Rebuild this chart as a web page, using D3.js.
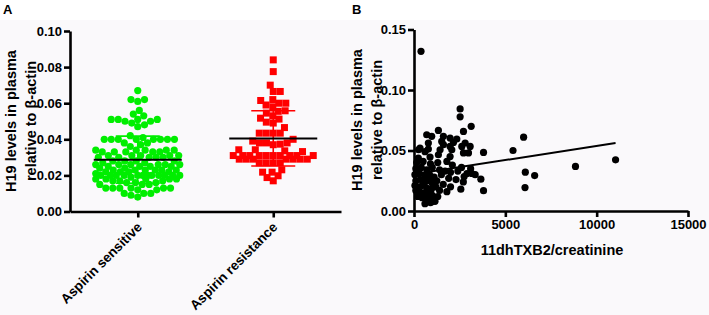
<!DOCTYPE html>
<html><head><meta charset="utf-8">
<script src="https://cdn.jsdelivr.net/npm/d3@7"></script>
<style>
html,body{margin:0;padding:0;background:#fff;}
svg{display:block;font-family:"Liberation Sans",Arial,Helvetica,sans-serif;}
</style></head>
<body>
<svg id="chart" width="709" height="315"></svg>
<script>
// ---------- Data ----------
const categories = ["Aspirin sensitive", "Aspirin resistance"];
const sensitiveValues = [0.067,0.062,0.062,0.061,0.056,0.054,0.053,0.051,0.051,0.051,0.051,0.050,0.050,0.049,0.048,0.047,
0.042,0.041,
0.040,0.040,0.040,0.040,0.040,0.040,0.040,0.040,0.038,0.038,
0.037,0.036,
0.034,0.034,0.034,0.033,0.033,0.033,0.033,0.034,0.034,0.033,
0.031,0.031,0.030,0.030,0.031,0.030,0.031,0.030,0.031,0.030,
0.028,0.028,0.027,0.028,0.027,0.028,
0.026,0.026,0.025,0.026,0.025,0.026,0.025,0.026,0.024,0.025,0.026,0.024,
0.023,0.023,0.022,0.023,0.022,0.023,0.022,0.023,0.022,0.023,
0.020,0.020,0.020,0.020,0.020,0.020,0.020,0.020,0.020,0.020,0.020,0.020,0.019,0.021,
0.018,0.018,0.017,0.018,0.017,0.018,0.017,0.018,
0.016,0.015,0.016,0.015,0.016,0.015,
0.013,0.013,0.013,0.013,0.013,0.013,0.012,0.012,
0.010,0.010,0.010,0.009,
0.008];
const resistanceValues = [0.084,0.0775,0.070,0.0665,0.0665,0.0615,0.060,0.060,0.062,0.058,0.059,0.0555,0.0545,0.0558,0.053,0.0517,0.0512,0.049,0.0465,0.0495,
0.0434,0.0434,0.0434,0.0434,0.040,0.038,0.038,0.037,0.0342,0.0332,0.0336,0.0342,0.0373,0.038,0.039,
0.031,0.031,0.031,0.031,0.031,0.031,0.031,0.031,0.031,0.031,
0.029,0.029,0.029,0.029,0.029,0.029,0.029,
0.027,0.027,0.027,0.027,
0.0218,0.0198,0.017,0.0188,0.0218,0.0231];
const yTicksA = [0, 0.02, 0.04, 0.06, 0.08, 0.10];

const txbValues = [384,
2525,2525,3130,2708,1335,696,970,1610,1976,2343,6000,
1518,2160,786,2800,329,786,1610,1976,2617,3074,1427,2069,2708,2983,3806,5420,250,604,1335,1976,878,237,
8840,11035,6094,6605,6077,3806,3660,3350,3168,2563,2745,
150,500,900,1300,1800,2100,2600,3100,
100,400,700,1000,1400,1700,2000,2400,2900,
50,300,600,850,1100,1500,1900,2300,2700,
100,350,600,800,1000,1250,1600,2000,
50,200,450,700,950,1200,1400,1800,
100,300,550,750,1000,1300,
200,450,650,800,1050,900,600,1150,970];
const h19Values = [0.132,
0.0844,0.0778,0.070,0.0658,0.0666,0.063,0.0617,0.0617,0.0603,0.0595,0.061,
0.0575,0.0567,0.0562,0.0562,0.052,0.0512,0.0548,0.0534,0.0534,0.0534,0.0506,0.0506,0.048,0.048,0.0484,0.050,0.0506,0.049,0.0465,0.045,0.0446,0.0437,
0.0368,0.0423,0.0321,0.0293,0.0194,0.0168,0.0263,0.030,0.031,0.018,0.0285,
0.040,0.041,0.039,0.040,0.041,0.038,0.036,0.035,
0.035,0.036,0.034,0.036,0.034,0.033,0.032,0.033,0.031,
0.030,0.031,0.029,0.030,0.028,0.030,0.027,0.026,0.024,
0.025,0.026,0.024,0.025,0.023,0.025,0.022,0.020,
0.021,0.020,0.021,0.019,0.018,0.020,0.017,0.016,
0.017,0.016,0.015,0.014,0.013,0.012,
0.012,0.011,0.010,0.009,0.009,0.007,0.006,0.008,0.0077];
const xTicksB = [0, 5000, 10000, 15000];
const yTicksB = [0, 0.05, 0.10, 0.15];
const regressionIntercept = 0.0304;
const regressionSlope = 2.34e-6;

// ---------- Setup ----------
const svg = d3.select("#chart");
svg.append("rect").attr("x",0).attr("y",20).attr("width",709).attr("height",295).attr("fill","#faf9fb");

const FF = "'Liberation Sans', Arial, sans-serif";
const FONT = "bold 13px " + FF;

function styleAxis(g){
  g.select(".domain").attr("stroke","#000").attr("stroke-width",2.6);
  g.selectAll(".tick line").attr("stroke","#000").attr("stroke-width",2.6);
  g.selectAll(".tick text").attr("fill","#000").style("font",FONT);
}
function yTitle(x1, x2, cy){
  [["H19 levels in plasma", x1], ["relative to β-actin", x2]].forEach(([t, x]) => {
    svg.append("text").attr("transform", `translate(${x},${cy}) rotate(-90)`)
      .attr("text-anchor","middle").style("font","bold 14.5px " + FF).text(t);
  });
}

// ---------- Panel A ----------
const xA = d3.scalePoint().domain(categories).range([70, 341]).padding(0.5);
const yA = d3.scaleLinear().domain([0, 0.10]).range([211.5, 31]);

svg.append("text").attr("x",3).attr("y",14).text("A").style("font","bold 13px " + FF);

const gyA = svg.append("g").attr("transform","translate(70,0)")
  .call(d3.axisLeft(yA).tickValues(yTicksA).tickFormat(d3.format(".2f")).tickSize(6).tickSizeOuter(0).tickPadding(2));
styleAxis(gyA);
const gxA = svg.append("g").attr("transform","translate(0,211.5)")
  .call(d3.axisBottom(xA).tickSize(6).tickSizeOuter(0).tickFormat(""));
styleAxis(gxA);

svg.selectAll(".catlabel").data(categories).join("text")
  .attr("class","catlabel")
  .attr("transform", d => `translate(${xA(d)+5},${228}) rotate(-45)`)
  .attr("text-anchor","end")
  .style("font","bold 13.5px " + FF)
  .text(d => d);

yTitle(15.5, 35.5, 121);

// beeswarm layout in pixel space, confined to a half-width W
function swarm(values, cx, yScale, diam, W){
  const sorted = values.map(v => ({v, y: yScale(v)})).sort((a,b) => b.y - a.y);
  const placed = [];
  sorted.forEach((p, i) => {
    const near = placed.filter(q => Math.abs(q.y - p.y) < diam);
    const forb = near.map(q => {
      const dy = Math.abs(q.y - p.y);
      const dx = Math.sqrt(diam*diam - dy*dy);
      return [q.off - dx, q.off + dx];
    });
    const cands = [0];
    forb.forEach(f => cands.push(f[0], f[1]));
    const ok = cands.filter(c => Math.abs(c) <= W && forb.every(f => c <= f[0] + 1e-6 || c >= f[1] - 1e-6));
    let chosen;
    if (ok.length) {
      ok.sort((a,b) => Math.abs(a) - Math.abs(b) || (i % 2 ? a - b : b - a));
      chosen = ok[0];
    } else {
      let best = -1;
      for (let c = -W; c <= W + 1e-9; c += 0.5) {
        let s = Infinity;
        near.forEach(q => { const d = Math.hypot(q.off - c, q.y - p.y); if (d < s) s = d; });
        if (s > best + 1e-9 || (Math.abs(s - best) < 1e-9 && Math.abs(c) < Math.abs(chosen))) { best = s; chosen = c; }
      }
    }
    p.off = chosen;
    placed.push(p);
  });
  return placed.map(p => ({v: p.v, x: cx + p.off, y: p.y}));
}

const groups = [
  {name: categories[0], values: sensitiveValues, color: "#00ee00", shape: "circle", halfWidth: 42},
  {name: categories[1], values: resistanceValues, color: "#ff0000", shape: "square", halfWidth: 40}
];

groups.forEach(gr => {
  const cx = xA(gr.name);
  const pts = swarm(gr.values, cx, yA, 7, gr.halfWidth);
  const g = svg.append("g");
  if (gr.shape === "circle") {
    g.selectAll("circle").data(pts).join("circle")
      .attr("cx", d => d.x).attr("cy", d => d.y).attr("r", 3.6).attr("fill", gr.color);
  } else {
    g.selectAll("rect").data(pts).join("rect")
      .attr("x", d => d.x - 3.5).attr("y", d => d.y - 3.5).attr("width", 7).attr("height", 7).attr("fill", gr.color);
  }
  const m = d3.mean(gr.values), sd = d3.deviation(gr.values);
  g.append("line").attr("x1",cx).attr("x2",cx).attr("y1",yA(m-sd)).attr("y2",yA(m+sd)).attr("stroke",gr.color).attr("stroke-width",1.6);
  [m-sd, m+sd].forEach(v => g.append("line").attr("x1",cx-22).attr("x2",cx+22).attr("y1",yA(v)).attr("y2",yA(v)).attr("stroke",gr.color).attr("stroke-width",1.6));
  g.append("line").attr("x1",cx-44).attr("x2",cx+44).attr("y1",yA(m)).attr("y2",yA(m)).attr("stroke","#000").attr("stroke-width",2);
});

// ---------- Panel B ----------
const xB = d3.scaleLinear().domain([0, 15000]).range([414, 688]);
const yB = d3.scaleLinear().domain([0, 0.15]).range([211, 29.5]);

svg.append("text").attr("x",352).attr("y",14).text("B").style("font","bold 13px " + FF);

const gyB = svg.append("g").attr("transform","translate(414,0)")
  .call(d3.axisLeft(yB).tickValues(yTicksB).tickFormat(d3.format(".2f")).tickSize(6).tickSizeOuter(0).tickPadding(2));
styleAxis(gyB);
const gxB = svg.append("g").attr("transform","translate(0,211)")
  .call(d3.axisBottom(xB).tickValues(xTicksB).tickFormat(d3.format("d")).tickSize(6).tickSizeOuter(0).tickPadding(3));
styleAxis(gxB);

svg.append("text").attr("x",552).attr("y",255).attr("text-anchor","middle")
  .style("font","bold 14.5px " + FF).text("11dhTXB2/creatinine");

yTitle(362, 382, 120);

const ptsB = txbValues.map((x,i) => ({x, y: h19Values[i]}));
svg.append("g").selectAll("circle").data(ptsB).join("circle")
  .attr("cx", d => xB(d.x)).attr("cy", d => yB(d.y)).attr("r", 3.6).attr("fill", "#000");

const xExt = d3.extent(txbValues);
svg.append("line")
  .attr("x1", xB(xExt[0])).attr("y1", yB(regressionIntercept + regressionSlope*xExt[0]))
  .attr("x2", xB(xExt[1])).attr("y2", yB(regressionIntercept + regressionSlope*xExt[1]))
  .attr("stroke","#000").attr("stroke-width",2);
</script>
</body></html>
